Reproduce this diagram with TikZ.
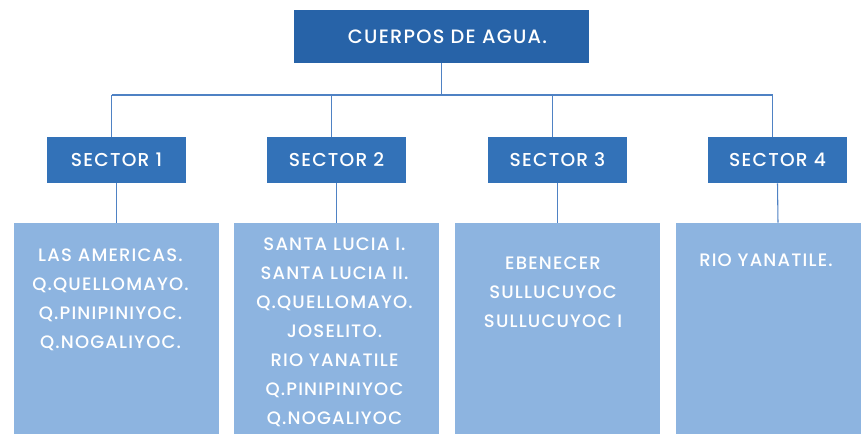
\documentclass[tikz,border=0pt]{standalone}
\usepackage{fontspec}
\IfFontExistsTF{Poppins Medium}
  {\setmainfont{Poppins Medium}[LetterSpace=6.5]}
  {\setmainfont{Poppins}[LetterSpace=6.5]}
\usepackage{xcolor}
\usepackage{tikz}
\usetikzlibrary{positioning,calc}

\definecolor{rootblue}{HTML}{2763A8}
\definecolor{secblue}{HTML}{3372B8}
\definecolor{leafblue}{HTML}{8DB4E0}
\definecolor{wireblue}{HTML}{4F82C4}

\begin{document}
\begin{tikzpicture}[x=0.75pt, y=-0.75pt,
    rootbox/.style={fill=rootblue, minimum width=221.25pt, minimum height=39.75pt,
                    inner sep=0pt, text=white, font=\fontsize{14.5}{16}\selectfont},
    secbox/.style={fill=secblue, minimum width=104.25pt, minimum height=34.5pt,
                   inner sep=0pt, text=white, font=\fontsize{14}{16}\selectfont},
    leafbox/.style={fill=leafblue, minimum width=153.75pt, minimum height=162.75pt, inner sep=0pt},
    leaftext/.style={anchor=north, inner sep=0pt, align=center, text=white,
                     font=\fontsize{13.5}{21.75}\selectfont},
    wire/.style={draw=wireblue, line width=0.8pt}
]

\path[use as bounding box, clip] (0,0) rectangle (861,434);
\fill[white] (0,0) rectangle (861,434);

%% Root
\node[rootbox] (top) at (441.5,36.5) {\hspace{9pt}CUERPOS DE AGUA.};

%% Sectors
\node[secbox] (s1) at (116.5,160) {SECTOR 1};
\node[secbox] (s2) at (336.5,160) {SECTOR 2};
\node[secbox] (s3) at (557.5,160) {SECTOR 3};
\node[secbox] (s4) at (777.5,160) {SECTOR 4};

%% Water bodies
\node[leafbox] (b1) at (116.5,331.5) {};
\node[leafbox] (b2) at (336.5,331.5) {};
\node[leafbox] (b3) at (557.5,331.5) {};
\node[leafbox] (b4) at (778,331.5) {};

\node[leaftext] (t1) at (110.5,249) {LAS AMERICAS.\\Q.QUELLOMAYO.\\Q.PINIPINIYOC.\\Q.NOGALIYOC.};
\node[leaftext] (t2) at (334.5,237.5) {SANTA LUCIA I.\\SANTA LUCIA II.\\Q.QUELLOMAYO.\\JOSELITO.\\RIO YANATILE\\Q.PINIPINIYOC\\Q.NOGALIYOC};
\node[leaftext] (t3) at (553,256.5) {EBENECER\\SULLUCUYOC\\SULLUCUYOC I};
\node[leaftext] (t4) at (766,253.5) {RIO YANATILE.};

%% Connectors
\coordinate (bus) at (0,95);
\draw[wire] (top.south) -- (top.south |- bus);
\foreach \i in {1,...,4} {
  \coordinate (d\i) at ($(s\i.north)+(-5,0)$);
  \draw[wire] (d\i) -- (d\i |- bus);
  \draw[wire] (s\i.south) -- (b\i.north);
}
\draw[wire] (d1 |- bus) -- (d4 |- bus);

\end{tikzpicture}
\end{document}
